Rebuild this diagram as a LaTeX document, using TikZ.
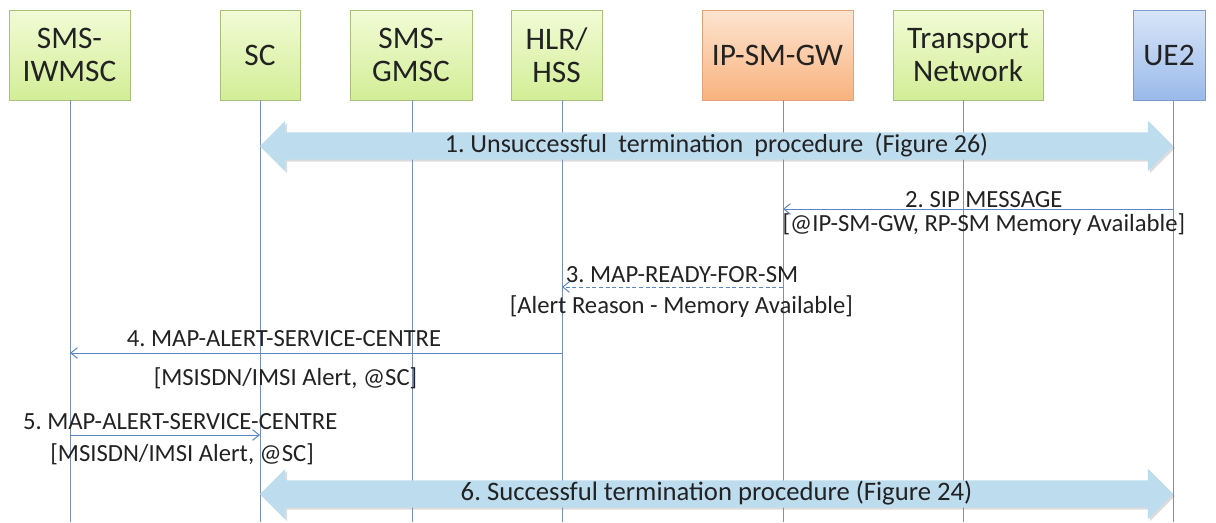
\documentclass[tikz,border=0pt]{standalone}
\usepackage{fontspec}
\setmainfont{Carlito}
\usetikzlibrary{shapes.arrows,shadows,arrows.meta}
\frenchspacing

\definecolor{greentop}{HTML}{F2FBD6}
\definecolor{greenbot}{HTML}{D2EE96}
\definecolor{greenline}{HTML}{A9BF7A}
\definecolor{orangetop}{HTML}{FDE4D0}
\definecolor{orangebot}{HTML}{F9B27E}
\definecolor{orangeline}{HTML}{E3A377}
\definecolor{bluetop}{HTML}{D8E5F8}
\definecolor{bluebot}{HTML}{9ABAEA}
\definecolor{blueline}{HTML}{7C9BD2}
\definecolor{lifeblue}{HTML}{7890BC}
\definecolor{msgblue}{HTML}{5B86C4}
\definecolor{procfill}{HTML}{BDDCEE}
\definecolor{textdark}{HTML}{222222}

\tikzset{
    entity/.style={draw=greenline, line width=0.6pt, top color=greentop, bottom color=greenbot,
        minimum height=67.5pt, align=center, inner sep=0pt, text=textdark,
        font=\fontsize{23.5}{25}\selectfont,
        drop shadow={shadow xshift=1pt, shadow yshift=-1pt, opacity=0.2}},
    gateway/.style={entity, draw=orangeline, top color=orangetop, bottom color=orangebot},
    terminal/.style={entity, draw=blueline, top color=bluetop, bottom color=bluebot},
    life/.style={draw=lifeblue, line width=0.75pt},
    msg/.style={draw=msgblue, line width=0.75pt, -{Straight Barb[length=5pt, width=8pt]}},
    lab/.style={inner sep=0pt, text=textdark, font=\fontsize{18.5}{22}\selectfont},
    procarrow/.style={double arrow, fill=procfill, draw=none, double arrow head extend=8.6pt,
        minimum height=684.75pt, inner xsep=0pt, inner ysep=1.1pt,
        text height=13.5pt, text depth=4.5pt, text=textdark,
        font=\fontsize{19.5}{22}\selectfont,
        drop shadow={shadow xshift=1.5pt, shadow yshift=-1.5pt, opacity=0.3, fill=black!45}}
}

\begin{document}
\begin{tikzpicture}[x=0.75pt, y=-0.75pt]
    \useasboundingbox (0, 0) rectangle (1216, 522);

    % entities
    \node[entity, minimum width=90.75pt] (iwmsc) at (69.5, 55) {SMS-\\IWMSC};
    \node[entity, minimum width=60pt] (sc) at (260, 55) {SC};
    \node[entity, minimum width=91.5pt] (gmsc) at (411, 55) {SMS-\\GMSC};
    \node[entity, minimum width=68.25pt] (hlr) at (556.5, 55) {HLR/\\HSS};
    \node[gateway, minimum width=113.25pt] (ipsmgw) at (777.5, 55) {IP-SM-GW};
    \node[entity, minimum width=112.5pt] (tn) at (968, 55) {Transport\\Network};
    \node[terminal, minimum width=54pt] (ue2) at (1169, 55) {UE2};

    % lifelines
    \coordinate (iwmsc-end) at (70, 522);
    \coordinate (sc-end) at (260, 522);
    \coordinate (gmsc-end) at (412, 522);
    \coordinate (hlr-end) at (562, 522);
    \coordinate (ipsmgw-end) at (783, 522);
    \coordinate (tn-end) at (963, 522);
    \coordinate (ue2-end) at (1173, 522);
    \draw[life] (iwmsc-end |- iwmsc.south) -- (iwmsc-end);
    \draw[life] (sc-end |- sc.south) -- (sc-end);
    \draw[life] (gmsc-end |- gmsc.south) -- (gmsc-end);
    \draw[life] (hlr-end |- hlr.south) -- (hlr-end);
    \draw[life] (ipsmgw-end |- ipsmgw.south) -- (ipsmgw-end);
    \draw[life] (tn-end |- tn.south) -- (tn-end);
    \draw[life] (ue2-end |- ue2.south) -- (ue2-end);

    % 1
    \node[procarrow] (proc1) at (716.5, 146) {1. Unsuccessful\hspace{4pt} termination\hspace{4pt} procedure\hspace{4pt} (Figure 26)};

    % 2
    \draw[msg] (ue2-end |- 0, 209) --
        node[lab, above=0.5pt, pos=0.485] {2. SIP MESSAGE}
        node[lab, below=3pt, pos=0.485] {[@IP-SM-GW, RP-SM Memory Available]}
        (ipsmgw-end |- 0, 209);

    % 3
    \draw[msg, dash pattern=on 3pt off 2pt] (ipsmgw-end |- 0, 287) --
        node[lab, above=3pt, pos=0.457] {3. MAP-READY-FOR-SM}
        node[lab, below=6pt, pos=0.46] {[Alert Reason - Memory Available]}
        (hlr-end |- 0, 287);

    % 4
    \draw[msg] (hlr-end |- 0, 353) --
        node[lab, above=4.5pt, pos=0.565] {4. MAP-ALERT-SERVICE-CENTRE}
        node[lab, below=10.5pt, pos=0.562] {[MSISDN/IMSI Alert, @SC]}
        (iwmsc-end |- 0, 353);

    % 5
    \draw[msg] (iwmsc-end |- 0, 435) --
        node[lab, above=3.75pt, pos=0.58] {5. MAP-ALERT-SERVICE-CENTRE}
        node[lab, below=6pt, pos=0.59] {[MSISDN/IMSI Alert, @SC]}
        (sc-end |- 0, 435);

    % 6
    \node[procarrow, font=\fontsize{20}{22}\selectfont] (proc6) at (716.5, 494) {6. Successful termination procedure (Figure 24)};
\end{tikzpicture}
\end{document}
